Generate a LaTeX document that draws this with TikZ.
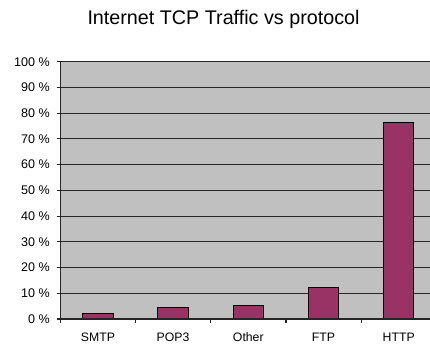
\documentclass[tikz,border=0pt]{standalone}
\usepackage{fontspec}
\setmainfont{Liberation Sans}
\definecolor{plotgrey}{RGB}{192,192,192}
\definecolor{barred}{RGB}{153,51,102}
\begin{document}
\begin{tikzpicture}[x=0.75pt,y=-0.75pt,
  grid/.style={draw=black!85,line width=0.75pt},
  axisline/.style={draw=black!85,line width=0.9pt},
  bar/.style={fill=barred,draw=black,line width=0.75pt},
  ylab/.style={anchor=east,font=\fontsize{9.4}{10}\selectfont,inner sep=0pt},
  xlab/.style={anchor=base,font=\fontsize{9.2}{10}\selectfont,inner sep=0pt},
  title/.style={anchor=base,font=\fontsize{14.8}{16}\selectfont,inner sep=0pt}]
\useasboundingbox (0,0) rectangle (430,347);
\fill[white] (0,0) rectangle (430,347);
% plot area
\fill[plotgrey] (60.5,61.7) rectangle (430,319);
% gridlines and y ticks
\foreach \k in {1,...,10}{
  \draw[grid] (56.7,{319-25.73*\k}) -- (430,{319-25.73*\k});
  \node[ylab] (y\k) at (50,{319-25.73*\k}) {\k0 \%};
}
\node[ylab] (y0) at (50,319) {0 \%};
% bars
\foreach \i/\v/\n in {0/2.3/SMTP,1/4.4/POP3,2/5.2/Other,3/12.2/FTP,4/76.3/HTTP}{
  \pgfmathsetmacro{\cx}{60.3+75.2*\i+37.6}
  \draw[bar] ({\cx-15.2},319) rectangle ({\cx+15.2},{319-25.73*\v/10});
  \node[xlab] (c\i) at (\cx,341.3) {\n};
}
% axes
\draw[axisline] (60.5,61.7) -- (60.5,319);
\draw[axisline] (56.7,319) -- (430,319);
\foreach \i in {0,...,4}{
  \draw[axisline] ({60.5+75.2*\i},319) -- ({60.5+75.2*\i},322.7);
}
% title
\node[title] (t) at (223.5,24) {Internet TCP Traffic vs protocol};
\end{tikzpicture}
\end{document}
